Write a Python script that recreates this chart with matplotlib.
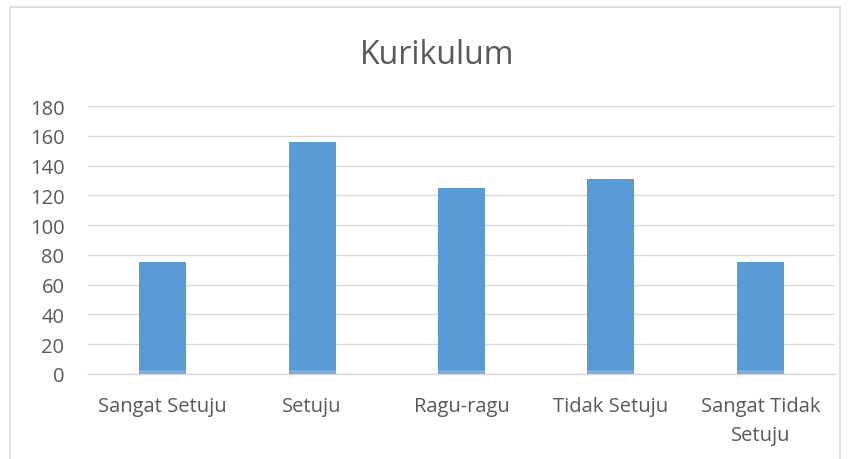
import matplotlib
matplotlib.use("Agg")
import matplotlib.pyplot as plt
from matplotlib.patches import Rectangle

categories = ["Sangat Setuju", "Setuju", "Ragu-ragu", "Tidak Setuju", "Sangat Tidak\nSetuju"]
base_values = [2.5, 2.5, 2.5, 2.5, 2.5]
main_values = [72.5, 153.5, 122.5, 128.5, 72.5]
yticks = [0, 20, 40, 60, 80, 100, 120, 140, 160, 180]

plt.rcParams['font.family'] = ['Open Sans', 'DejaVu Sans']
fig = plt.figure(figsize=(8.51, 4.60), dpi=100)
ax = fig.add_axes([88/851, 85/460, (835-88)/851, (375-107)/460])

x = list(range(len(categories)))
ax.bar(x, base_values, width=0.315, color="#7aaee0", zorder=3)
ax.bar(x, main_values, bottom=base_values, width=0.315, color="#5b9bd5", zorder=3)

ax.set_xlim(-0.5, len(categories) - 0.5)
ax.set_ylim(0, 180)
ax.set_yticks(yticks)
ax.set_xticks(x)
ax.set_xticklabels(categories, fontsize=14.5, color="#595959", linespacing=1.6)
ax.tick_params(axis='y', labelsize=14.5, labelcolor="#595959", length=0, pad=17)
ax.tick_params(axis='x', length=0, pad=16)
ax.grid(axis='y', color="#d9d9d9", linewidth=1, zorder=0)
for s in ["top", "right", "left"]:
    ax.spines[s].set_visible(False)
ax.spines["bottom"].set_color("#d9d9d9")
ax.spines["bottom"].set_linewidth(1)

fig.text(437/851, 1 - 55/460, "Kurikulum", ha="center", va="center", fontsize=23, color="#595959")

fig.patches.append(Rectangle((10/851, -0.05), (840-10)/851, 1 - 8/460 + 0.05,
                             transform=fig.transFigure, fill=False,
                             edgecolor="#d9d9d9", linewidth=1.2))

fig.savefig("out.png", dpi=100)
